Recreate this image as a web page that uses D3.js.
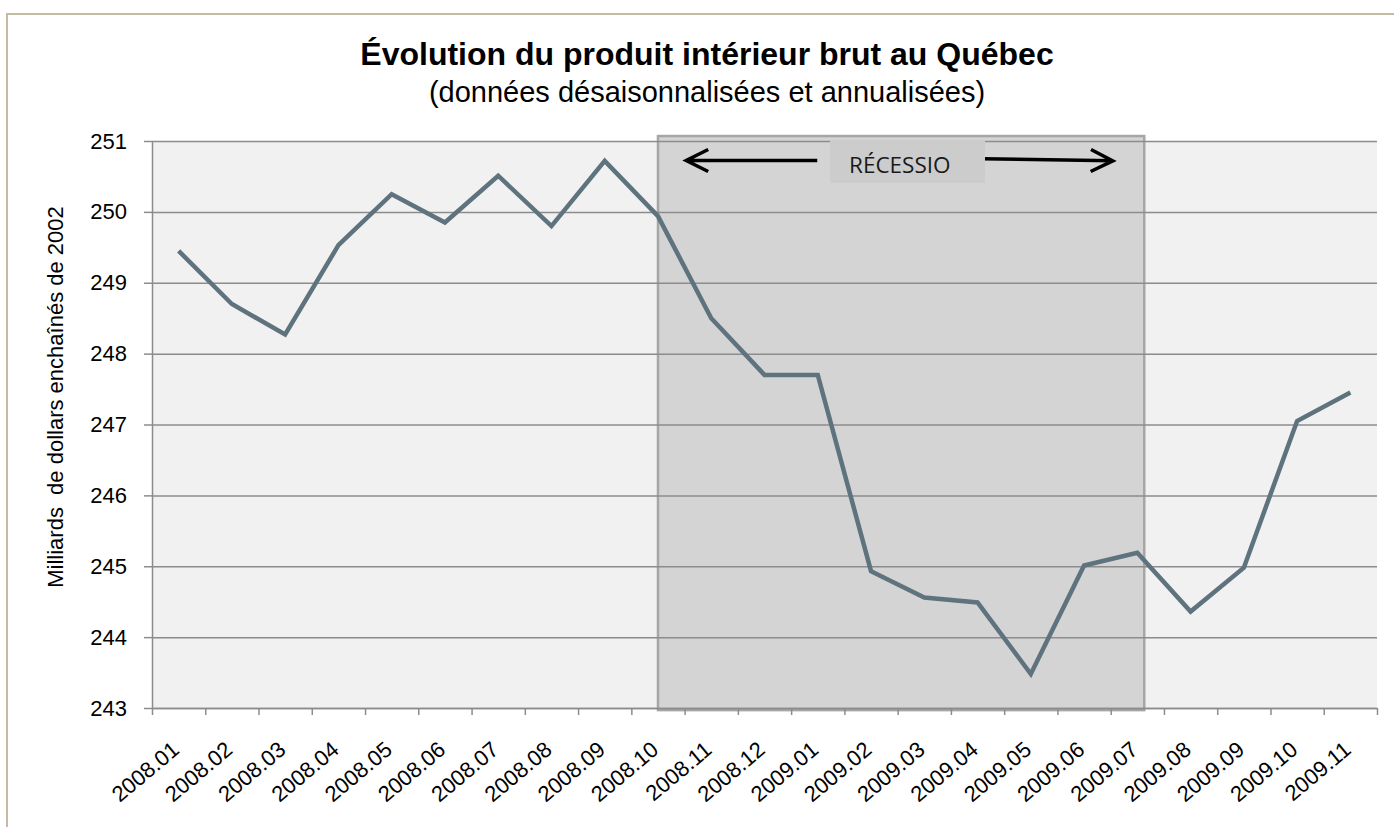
<!DOCTYPE html>
<html lang="fr">
<head>
<meta charset="utf-8">
<script src="https://cdn.jsdelivr.net/npm/d3@7"></script>
<style>
  body { margin: 0; background: #fff; }
  svg { display: block; }
</style>
</head>
<body>
<svg id="chart"></svg>
<script>
// data
const months = [
  "2008.01", "2008.02", "2008.03", "2008.04", "2008.05", "2008.06",
  "2008.07", "2008.08", "2008.09", "2008.10", "2008.11", "2008.12",
  "2009.01", "2009.02", "2009.03", "2009.04", "2009.05", "2009.06",
  "2009.07", "2009.08", "2009.09", "2009.10", "2009.11",
];
const pib = [
  249.45, 248.70, 248.27, 249.53, 250.25, 249.85, 250.51, 249.80,
  250.72, 249.94, 248.50, 247.70, 247.70, 244.93, 244.56, 244.49,
  243.48, 245.01, 245.19, 244.36, 244.98, 247.05, 247.45,
];
const yTicks = [243, 244, 245, 246, 247, 248, 249, 250, 251];

// recession shading, in month-index units (band centre = i + 0.5) and values
const recessionSpan = [9.5, 18.63];
const recessionValues = [242.97, 251.07];
const recessionLabel = "RÉCESSIO";
const labelBoxSpan = [12.73, 15.64];
const labelBoxValues = [250.41, 251.01];
const labelPos = [14.04, 250.55];
const arrows = [
  { from: [12.49, 250.725], to: [10.03, 250.725] },
  { from: [15.58, 250.75], to: [18.04, 250.72] },
];

const title = "Évolution du produit intérieur brut au Québec";
const subtitle = "(données désaisonnalisées et annualisées)";
const yTitle = "Milliards\u00a0 de dollars enchaînés de 2002";

// layout
const width = 1394;
const height = 827;
const margin = { top: 141, left: 152 };
const plotWidth = 1225;
const plotHeight = 567;
const font = "'Liberation Sans', Arial, sans-serif";
const gridColor = "#8c8c8c";

const svg = d3.select("#chart").attr("width", width).attr("height", height);

// scales
const x = d3.scaleBand()
  .domain(months)
  .range([margin.left, margin.left + plotWidth]);
const xi = d3.scaleLinear()
  .domain([0, months.length])
  .range([margin.left, margin.left + plotWidth]);
const y = d3.scaleLinear()
  .domain([243, 251])
  .range([margin.top + plotHeight, margin.top]);

// outer frame
svg.append("rect")
  .attr("x", 7).attr("y", 14)
  .attr("width", width + 20).attr("height", height + 20)
  .attr("fill", "#fff")
  .attr("stroke", "#c3bba3")
  .attr("stroke-width", 2);

// plot background
svg.append("rect")
  .attr("x", margin.left).attr("y", margin.top)
  .attr("width", plotWidth).attr("height", plotHeight)
  .attr("fill", "#f1f1f1");

// recession box
svg.append("rect")
  .attr("x", xi(recessionSpan[0]))
  .attr("y", y(recessionValues[1]))
  .attr("width", xi(recessionSpan[1]) - xi(recessionSpan[0]))
  .attr("height", y(recessionValues[0]) - y(recessionValues[1]))
  .attr("fill", "#d4d4d4")
  .attr("stroke", "#a6a6a6")
  .attr("stroke-width", 2.5);

// gridlines
svg.append("g")
  .attr("class", "grid")
  .attr("transform", `translate(${margin.left}, 0)`)
  .call(d3.axisLeft(y).tickValues(yTicks).tickSize(-plotWidth).tickFormat(""))
  .call((g) => g.select(".domain").remove())
  .selectAll("line")
  .attr("stroke", gridColor)
  .attr("stroke-width", 1.5);

// y axis
const yAxis = svg.append("g")
  .attr("class", "y-axis")
  .attr("transform", `translate(${margin.left}, 0)`)
  .call(d3.axisLeft(y).tickValues(yTicks).tickSize(8).tickPadding(17).tickSizeOuter(0));
yAxis.select(".domain").attr("stroke", gridColor).attr("stroke-width", 1.5);
yAxis.selectAll("line").attr("stroke", gridColor).attr("stroke-width", 1.5);
yAxis.selectAll("text")
  .attr("font-family", font)
  .attr("font-size", 22)
  .attr("fill", "#000");

// x axis ticks on band edges
const xTicks = svg.append("g")
  .attr("class", "x-ticks")
  .attr("transform", `translate(0, ${margin.top + plotHeight})`)
  .call(d3.axisBottom(xi).tickValues(d3.range(0, months.length + 1)).tickSize(7).tickSizeOuter(0).tickFormat(""));
xTicks.select(".domain").attr("stroke", gridColor).attr("stroke-width", 1.5);
xTicks.selectAll("line").attr("stroke", gridColor).attr("stroke-width", 1.5);

// x axis labels
const xAxis = svg.append("g")
  .attr("class", "x-axis")
  .attr("transform", `translate(0, ${margin.top + plotHeight})`)
  .call(d3.axisBottom(x).tickSize(0));
xAxis.select(".domain").remove();
xAxis.selectAll("text")
  .attr("x", 0).attr("y", 0).attr("dy", 0)
  .attr("text-anchor", "end")
  .attr("transform", "translate(2, 44) rotate(-40)")
  .attr("font-family", font)
  .attr("font-size", 22)
  .attr("fill", "#000");

// series line
const line = d3.line()
  .x((d, i) => x(months[i]) + x.bandwidth() / 2)
  .y((d) => y(d));

svg.append("path")
  .datum(pib)
  .attr("d", line)
  .attr("fill", "none")
  .attr("stroke", "#5f737e")
  .attr("stroke-width", 4.5)
  .attr("stroke-linejoin", "miter");

// arrows
arrows.forEach((a) => {
  const x1 = xi(a.from[0]), y1 = y(a.from[1]);
  const x2 = xi(a.to[0]), y2 = y(a.to[1]);
  const ang = Math.atan2(y2 - y1, x2 - x1);
  const len = 22, half = 11;
  const bx = x2 - len * Math.cos(ang), by = y2 - len * Math.sin(ang);
  const px = -Math.sin(ang) * half, py = Math.cos(ang) * half;
  const p = d3.path();
  p.moveTo(x1, y1);
  p.lineTo(x2, y2);
  p.moveTo(bx + px, by + py);
  p.lineTo(x2, y2);
  p.lineTo(bx - px, by - py);
  svg.append("path")
    .attr("d", p.toString())
    .attr("fill", "none")
    .attr("stroke", "#000")
    .attr("stroke-width", 3.5);
});

// recession label
svg.append("rect")
  .attr("x", xi(labelBoxSpan[0]))
  .attr("y", y(labelBoxValues[1]))
  .attr("width", xi(labelBoxSpan[1]) - xi(labelBoxSpan[0]))
  .attr("height", y(labelBoxValues[0]) - y(labelBoxValues[1]))
  .attr("fill", "#cccccc");

svg.append("text")
  .attr("x", xi(labelPos[0]))
  .attr("y", y(labelPos[1]))
  .attr("text-anchor", "middle")
  .attr("font-family", "'Open Sans', sans-serif")
  .attr("font-size", 22.5)
  .attr("fill", "#1a1a1a")
  .text(recessionLabel);

// titles
svg.append("text")
  .attr("x", 707)
  .attr("y", 65)
  .attr("text-anchor", "middle")
  .attr("font-family", font)
  .attr("font-weight", "bold")
  .attr("font-size", 32)
  .text(title);

svg.append("text")
  .attr("x", 707)
  .attr("y", 102)
  .attr("text-anchor", "middle")
  .attr("font-family", font)
  .attr("font-size", 29)
  .text(subtitle);

svg.append("text")
  .attr("transform", "translate(63, 397) rotate(-90)")
  .attr("text-anchor", "middle")
  .attr("font-family", font)
  .attr("font-size", 22)
  .text(yTitle);
</script>
</body>
</html>
